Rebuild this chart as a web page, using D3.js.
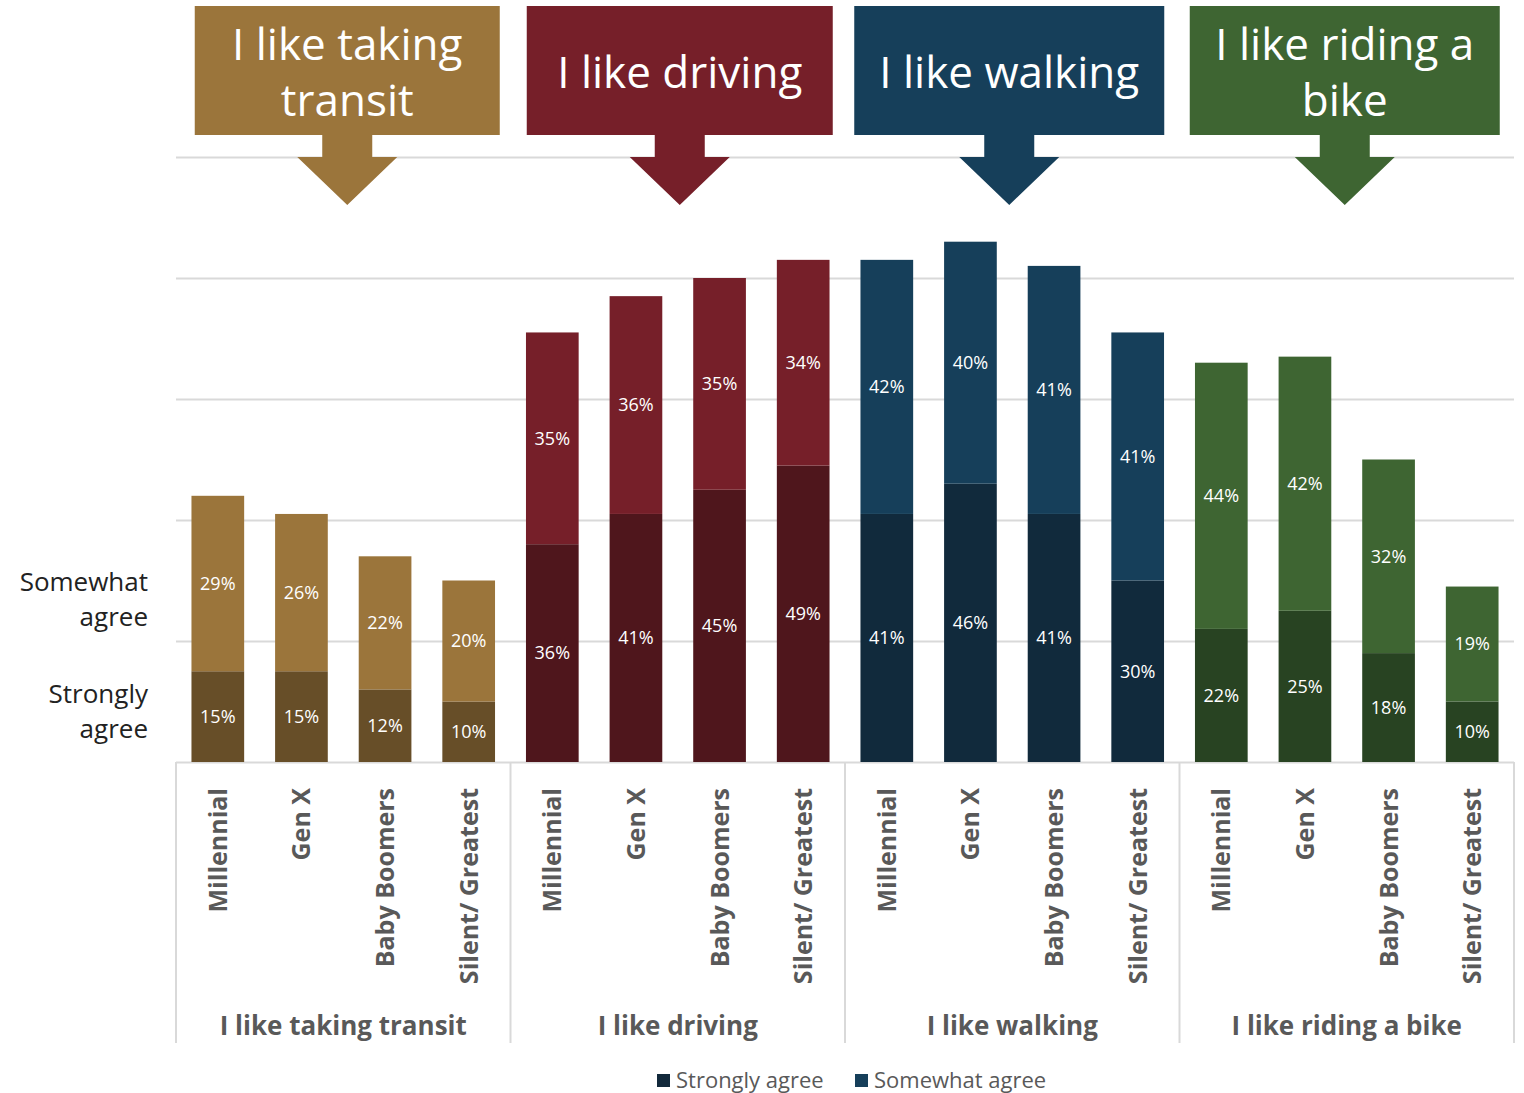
<!DOCTYPE html>
<html>
<head>
<meta charset="utf-8">
<script src="https://cdn.jsdelivr.net/npm/d3@7"></script>
<style>
  body { margin: 0; background: #fff; }
  svg { font-family: "Open Sans", "Lato", sans-serif; }
</style>
</head>
<body>
<div id="chart"></div>
<script>
'use strict';

var groups = ['I like taking transit', 'I like driving', 'I like walking', 'I like riding a bike'];
var headerLines = [['I like taking', 'transit'], ['I like driving'], ['I like walking'], ['I like riding a', 'bike']];
var generations = ['Millennial', 'Gen X', 'Baby Boomers', 'Silent/ Greatest'];
var strongly = [[15, 15, 12, 10], [36, 41, 45, 49], [41, 46, 41, 30], [22, 25, 18, 10]];
var somewhat = [[29, 26, 22, 20], [35, 36, 35, 34], [42, 40, 41, 41], [44, 42, 32, 19]];
var gridTicks = [0, 20, 40, 60, 80, 100];
var legendItems = ['Strongly agree', 'Somewhat agree'];

var darkColors = ['#674e28', '#4f161c', '#112a3c', '#284322'];
var lightColors = ['#9b753b', '#761f29', '#163f5a', '#3e6532'];

(function () {
    var width = 1524, height = 1093;
    var plotLeft = 176, plotRight = 1514, base = 762, plotTop = 157;

    var svg = d3.select('#chart').append('svg')
        .attr('width', width)
        .attr('height', height);

    var rows = [];
    groups.forEach(function (g, gi) {
        generations.forEach(function (gen, ci) {
            rows.push({ key: gi + '|' + ci, group: gi, gen: gen, strong: strongly[gi][ci], some: somewhat[gi][ci] });
        });
    });

    var x = d3.scaleBand()
        .domain(rows.map(function (d) { return d.key; }))
        .range([plotLeft, plotRight])
        .paddingInner(0.37)
        .paddingOuter(0.185);

    var y = d3.scaleLinear().domain([0, 100]).range([base, plotTop]);

    // gridlines
    svg.append('g')
        .attr('transform', 'translate(' + plotLeft + ',0)')
        .call(d3.axisLeft(y).tickValues(gridTicks).tickSize(-(plotRight - plotLeft)).tickFormat(''))
        .call(function (g) {
            g.select('.domain').remove();
            g.selectAll('line').attr('stroke', '#d9d9d9').attr('stroke-width', 2);
        });

    // group separators
    var groupW = (plotRight - plotLeft) / groups.length;
    svg.selectAll('.sep')
        .data(d3.range(groups.length + 1))
        .enter().append('line')
        .attr('class', 'sep')
        .attr('x1', function (d) { return plotLeft + d * groupW; })
        .attr('x2', function (d) { return plotLeft + d * groupW; })
        .attr('y1', base)
        .attr('y2', 1043)
        .attr('stroke', '#d9d9d9')
        .attr('stroke-width', 2);

    var series = d3.stack().keys(['strong', 'some'])(rows);

    series.forEach(function (s, si) {
        var colors = si === 0 ? darkColors : lightColors;
        var bars = svg.append('g').selectAll('rect')
            .data(s)
            .enter();
        bars.append('rect')
            .attr('x', function (d) { return x(d.data.key); })
            .attr('width', x.bandwidth())
            .attr('y', function (d) { return y(d[1]); })
            .attr('height', function (d) { return y(d[0]) - y(d[1]); })
            .attr('fill', function (d) { return colors[d.data.group]; });
        bars.append('text')
            .attr('x', function (d) { return x(d.data.key) + x.bandwidth() / 2; })
            .attr('y', function (d) { return (y(d[0]) + y(d[1])) / 2; })
            .attr('dy', '0.35em')
            .attr('text-anchor', 'middle')
            .attr('fill', '#fff')
            .style('font-size', '18px')
            .text(function (d) { return (d[1] - d[0]) + '%'; });
    });

    // category labels
    svg.append('g').selectAll('text')
        .data(rows)
        .enter().append('text')
        .attr('transform', function (d) {
            return 'translate(' + (x(d.key) + x.bandwidth() / 2 + 9) + ',788) rotate(-90)';
        })
        .attr('text-anchor', 'end')
        .attr('fill', '#595959')
        .style('font-size', '25px')
        .style('font-weight', 'bold')
        .text(function (d) { return d.gen; });

    // group labels
    svg.append('g').selectAll('text')
        .data(groups)
        .enter().append('text')
        .attr('x', function (d, i) { return plotLeft + (i + 0.5) * groupW; })
        .attr('y', 1035)
        .attr('text-anchor', 'middle')
        .attr('fill', '#595959')
        .style('font-size', '26px')
        .style('font-weight', 'bold')
        .text(function (d) { return d; });

    // header callouts (slight offsets from group centre, as in the original)
    var headerShift = [4, 2, -3, -2];
    var headerW = [305, 306, 310, 310];
    groups.forEach(function (g, gi) {
        var cx = plotLeft + (gi + 0.5) * groupW + headerShift[gi];
        var hg = svg.append('g');
        hg.append('rect')
            .attr('x', cx - headerW[gi] / 2)
            .attr('y', 6)
            .attr('width', headerW[gi])
            .attr('height', 129)
            .attr('fill', lightColors[gi]);
        hg.append('path')
            .attr('d', 'M' + (cx - 25) + ',134 L' + (cx + 25) + ',134 L' + (cx + 25) + ',157 L' + (cx + 50) + ',157 L' + cx + ',205 L' + (cx - 50) + ',157 L' + (cx - 25) + ',157 Z')
            .attr('fill', lightColors[gi]);
        var lines = headerLines[gi];
        var startY = lines.length === 1 ? 88 : 60;
        hg.selectAll('text')
            .data(lines)
            .enter().append('text')
            .attr('x', cx)
            .attr('y', function (d, i) { return startY + i * 56; })
            .attr('text-anchor', 'middle')
            .attr('fill', '#fff')
            .style('font-size', '44px')
            .text(function (d) { return d; });
    });

    // left labels
    var sideLabels = [['Somewhat', 'agree', 591], ['Strongly', 'agree', 703]];
    sideLabels.forEach(function (l) {
        svg.append('text').attr('x', 148).attr('y', l[2]).attr('text-anchor', 'end')
            .attr('fill', '#222').style('font-size', '26px').text(l[0]);
        svg.append('text').attr('x', 148).attr('y', l[2] + 35).attr('text-anchor', 'end')
            .attr('fill', '#222').style('font-size', '26px').text(l[1]);
    });

    // legend
    var legendX = [657, 855];
    var legendColors = ['#12293b', '#163f5a'];
    legendItems.forEach(function (t, i) {
        svg.append('rect').attr('x', legendX[i]).attr('y', 1074).attr('width', 13).attr('height', 13)
            .attr('fill', legendColors[i]);
        svg.append('text').attr('x', legendX[i] + 19).attr('y', 1088)
            .attr('fill', '#595959').style('font-size', '22px').text(t);
    });
})();
</script>
</body>
</html>
